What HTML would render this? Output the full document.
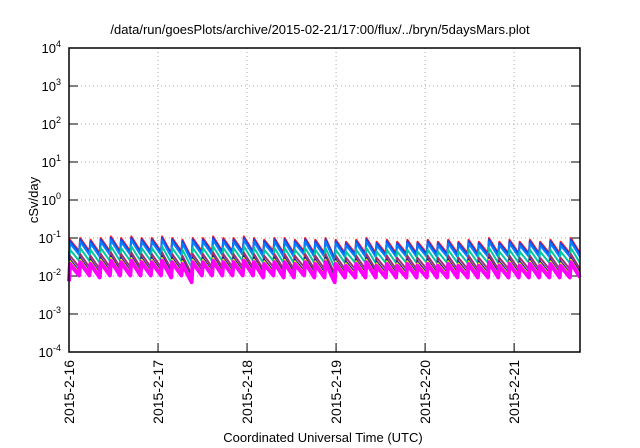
<!DOCTYPE html>
<html><head><meta charset="utf-8"><style>
html,body{margin:0;padding:0;background:#fff;}
svg{display:block;font-family:"Liberation Sans",sans-serif;}
</style></head><body>
<svg id="chart" width="640" height="448" viewBox="0 0 640 448"></svg>
<script>
const dayLabels = ["2015-2-16","2015-2-17","2015-2-18","2015-2-19","2015-2-20","2015-2-21"];
const yExponents = [-4,-3,-2,-1,0,1,2,3,4];
const seriesColors = ["#ff2020","#2040e0","#0080ff","#00c8a0","#a03070","#1a1a9a","#e8e800","#ff00ff"];
const seriesScale = [1.0,0.92,0.8,0.55,0.38,0.3,0.27,0.23];
const peaks = [0.09,0.1,0.09,0.1,0.11,0.1,0.11,0.1,0.1,0.11,0.1,0.09,0.1,0.1,0.11,0.1,0.1,0.11,0.1,0.09,0.1,0.1,0.09,0.1,0.09,0.1,0.09,0.08,0.09,0.1,0.08,0.09,0.08,0.09,0.08,0.09,0.08,0.09,0.08,0.09,0.08,0.1,0.08,0.09,0.08,0.09,0.08,0.09,0.08,0.1];
const troughs = [0.045,0.045,0.04,0.045,0.045,0.045,0.045,0.045,0.045,0.04,0.045,0.03,0.045,0.045,0.045,0.045,0.045,0.045,0.04,0.045,0.04,0.04,0.045,0.04,0.04,0.03,0.04,0.04,0.04,0.04,0.04,0.04,0.04,0.04,0.04,0.04,0.04,0.04,0.04,0.04,0.04,0.04,0.04,0.04,0.04,0.04,0.04,0.04,0.04,0.04];
const spanDays = 5.74;
const X0=69,X1=580,Y0=48,Y1=352;
const svg=document.getElementById('chart');
const NS="http://www.w3.org/2000/svg";
function xs(d){return X0+d*(X1-X0)/spanDays;}
function ys(v){return Y1-(Math.log10(v)+4)*(Y1-Y0)/8;}
function mk(tag,attrs,parent){const e=document.createElementNS(NS,tag);for(const k in attrs)e.setAttribute(k,attrs[k]);(parent||svg).appendChild(e);return e;}
let t=mk('text',{x:320,y:34,'text-anchor':'middle','font-size':13,fill:'#000'});


t.textContent='/data/run/goesPlots/archive/2015-02-21/17:00/flux/../bryn/5daysMars.plot';
yExponents.forEach((e)=>{const y=ys(Math.pow(10,e));
 if(e>-4&&e<4){let g=mk('line',{x1:X0,x2:X1,y1:y,y2:y,stroke:'#aaa','stroke-dasharray':'1,3','stroke-width':1});}
 let tk=mk('line',{x1:X0,x2:X0+9,y1:y,y2:y,stroke:'#000'});
 let tk2=mk('line',{x1:X1-9,x2:X1,y1:y,y2:y,stroke:'#000'});
 let l=mk('text',{x:X0-8,y:y+5,'text-anchor':'end','font-size':13,fill:'#000'});
 
 l.innerHTML='10<tspan dy="-6" font-size="9">'+e+'</tspan>';
});
dayLabels.forEach((d,i)=>{const x=xs(i);
 if(i>0){let g=mk('line',{x1:x,x2:x,y1:Y0,y2:Y1,stroke:'#aaa','stroke-dasharray':'1,3'});}
 let tk=mk('line',{x1:x,x2:x,y1:Y1-9,y2:Y1,stroke:'#000'});
 let l=mk('text',{x:0,y:0,'text-anchor':'end','font-size':14,fill:'#000',transform:'translate('+(x+5)+','+(Y1+8)+') rotate(-90)'});
 
 l.textContent=d;
});
const period=spanDays/peaks.length;
seriesScale.forEach((s,si)=>{
 let pts=[];let prev=troughs[0]*s*0.7;
 peaks.forEach((p,i)=>{const t0=i*period;
  pts.push([xs(t0),ys(prev)]);
  pts.push([xs(t0+period*0.1),ys(p*s)]);
  const tr=troughs[i]*s;
  for(let k=1;k<=4;k++){const f=k/4;const v=p*s*Math.pow(tr/(p*s),f);pts.push([xs(t0+period*0.1+f*period*0.9),ys(v)]);}
  prev=tr;});
 let pl=mk('polyline',{points:pts.map(q=>q[0].toFixed(1)+','+q[1].toFixed(1)).join(' '),fill:'none',stroke:seriesColors[si],'stroke-width':si==7?4:2,'stroke-linejoin':'round'});
 
 
});
let fr=mk('rect',{x:X0,y:Y0,width:X1-X0,height:Y1-Y0,fill:'none',stroke:'#000','stroke-width':1.5});

let yt=mk('text',{x:0,y:0,'text-anchor':'middle','font-size':13,fill:'#000',transform:'translate(38,200) rotate(-90)'});
yt.textContent='cSv/day';
let xt=mk('text',{x:323,y:442,'text-anchor':'middle','font-size':13,fill:'#000'});
xt.textContent='Coordinated Universal Time (UTC)';
</script>
</body></html>
